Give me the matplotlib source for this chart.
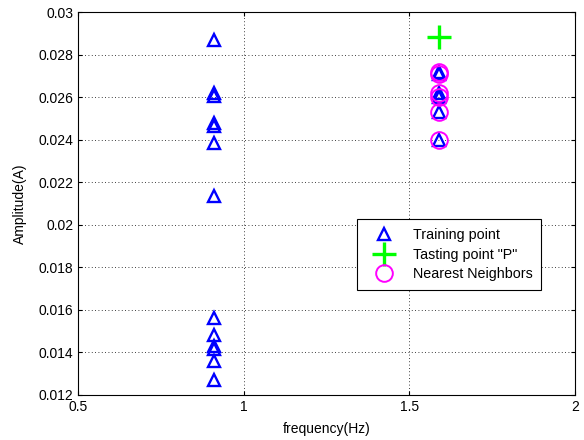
import numpy as np
import matplotlib
matplotlib.use('Agg')
import matplotlib.pyplot as plt

plt.rcParams['font.family'] = ['Liberation Sans', 'DejaVu Sans']

# training points (two frequency groups)
train_x_left = [0.91] * 13
train_y_left = [0.02868, 0.02619, 0.02605, 0.02478, 0.02464, 0.02384, 0.02135,
                0.01562, 0.01482, 0.01432, 0.01418, 0.01360, 0.01270]
train_x_right = [1.59] * 6
train_y_right = [0.0272, 0.0271, 0.0262, 0.0260, 0.0253, 0.0240]

# test point and neighbours
test_x = [1.59]
test_y = [0.02882]
nn_x = [1.59] * 6
nn_y = [0.0272, 0.0271, 0.0262, 0.0260, 0.0253, 0.0240]

fig = plt.figure(figsize=(5.84, 4.4), dpi=100)
ax = fig.add_axes([0.1336, 0.1023, 0.8510, 0.8704])

tr_x = train_x_left + train_x_right
tr_y = train_y_left + train_y_right
ax.plot(tr_x, tr_y, linestyle='none', marker='^', ms=8.5, mfc='none',
        mec=(0, 0, 1), mew=1.7, label='Training point')
ax.plot(test_x, test_y, linestyle='none', marker='+', ms=17,
        mec=(0, 1, 0), mew=2.4, label='Tasting point "P"')
ax.plot(nn_x, nn_y, linestyle='none', marker='o', ms=12, mfc='none',
        mec=(1, 0, 1), mew=1.4, label='Nearest Neighbors')

ax.set_xlim(0.5, 2)
ax.set_ylim(0.012, 0.03)
ax.set_xticks([0.5, 1, 1.5, 2])
ax.set_xticklabels(['0.5', '1', '1.5', '2'])
yt = np.arange(0.012, 0.0301, 0.002)
ax.set_yticks(yt)
ax.set_yticklabels(['%g' % round(v, 3) for v in yt])
ax.tick_params(direction='in', labelsize=10, top=True, right=True, length=3)
ax.grid(True, color='black', linestyle=(0, (1, 3)), linewidth=0.6)
ax.set_xlabel('frequency(Hz)', fontsize=10, labelpad=6)
ax.set_ylabel('Amplitude(A)', fontsize=10, labelpad=8)
for s in ax.spines.values():
    s.set_linewidth(0.8)

leg = ax.legend(loc='lower left', bbox_to_anchor=(0.561, 0.274), fontsize=10.3,
                fancybox=False, framealpha=1, edgecolor='black',
                borderpad=0.6, handlelength=2.6, handletextpad=0.7,
                labelspacing=0.4, borderaxespad=0)
leg.get_frame().set_linewidth(0.8)

fig.savefig('out.png', dpi=100)
